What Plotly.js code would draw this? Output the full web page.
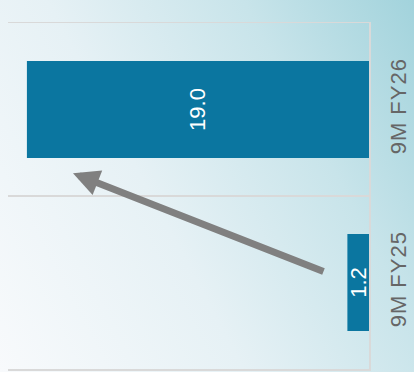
<!DOCTYPE html>
<html>
<head>
<meta charset="utf-8">
<script src="https://cdn.plot.ly/plotly-3.0.1.min.js"></script>
<style>
  html, body { margin: 0; padding: 0; }
  body {
    width: 414px; height: 372px; overflow: hidden;
    background: linear-gradient(62deg, #f8fafc 0%, #e6f1f5 40%, #c8e4ea 72%, #a2d3dc 100%);
  }
  #chart { width: 414px; height: 372px; }
  /* slightly airy period labels */
  #chart .ytick text { letter-spacing: 1px; }
</style>
</head>
<body>
<div id="chart"></div>
<script>
// Nine-month comparison, drawn as bars growing leftward from a right-hand baseline
const periods = ['9M FY25', '9M FY26'];
const values = [1.2, 19.0];
const valueLabels = ['1.2', '19.0'];

const barColor = '#0b76a0';
const gridColor = '#d9d9d9';

const trace = {
  type: 'bar',
  orientation: 'h',
  y: periods,
  x: values,
  text: valueLabels,
  textposition: 'inside',
  insidetextanchor: 'middle',
  textangle: -90,
  constraintext: 'none',
  textfont: { family: 'Liberation Sans, Arial, sans-serif', size: 22, color: '#ffffff' },
  marker: { color: barColor, line: { width: 0 } },
  hoverinfo: 'none',
  cliponaxis: false
};

const layout = {
  width: 414,
  height: 372,
  margin: { l: 8, r: 45, t: 23, b: 3, pad: 0 },
  paper_bgcolor: 'rgba(0,0,0,0)',
  plot_bgcolor: 'rgba(0,0,0,0)',
  showlegend: false,
  bargap: 0.44,
  xaxis: {
    range: [20.05, 0],
    showgrid: false,
    zeroline: false,
    showline: true,
    mirror: true,
    linecolor: gridColor,
    linewidth: 1.5,
    ticks: '',
    showticklabels: false,
    fixedrange: true
  },
  yaxis: {
    type: 'category',
    categoryorder: 'array',
    categoryarray: periods,
    range: [-0.5, 1.5],
    side: 'right',
    tickson: 'boundaries',
    showgrid: true,
    gridcolor: gridColor,
    gridwidth: 1.5,
    showline: true,
    linecolor: gridColor,
    linewidth: 1.5,
    ticks: '',
    tickangle: -90,
    ticklabelstandoff: 9,
    tickfont: { family: 'Liberation Sans, Arial, sans-serif', size: 22, color: '#666666' },
    zeroline: false,
    fixedrange: true
  },
  annotations: [{
    xref: 'paper', yref: 'paper',
    x: 0.18, y: 0.566,
    ax: 252, ay: 99,
    text: '',
    showarrow: true,
    arrowhead: 2,
    arrowsize: 0.75,
    arrowwidth: 7,
    arrowcolor: '#808080'
  }]
};

Plotly.newPlot('chart', [trace], layout, { staticPlot: true, displayModeBar: false });
</script>
</body>
</html>
